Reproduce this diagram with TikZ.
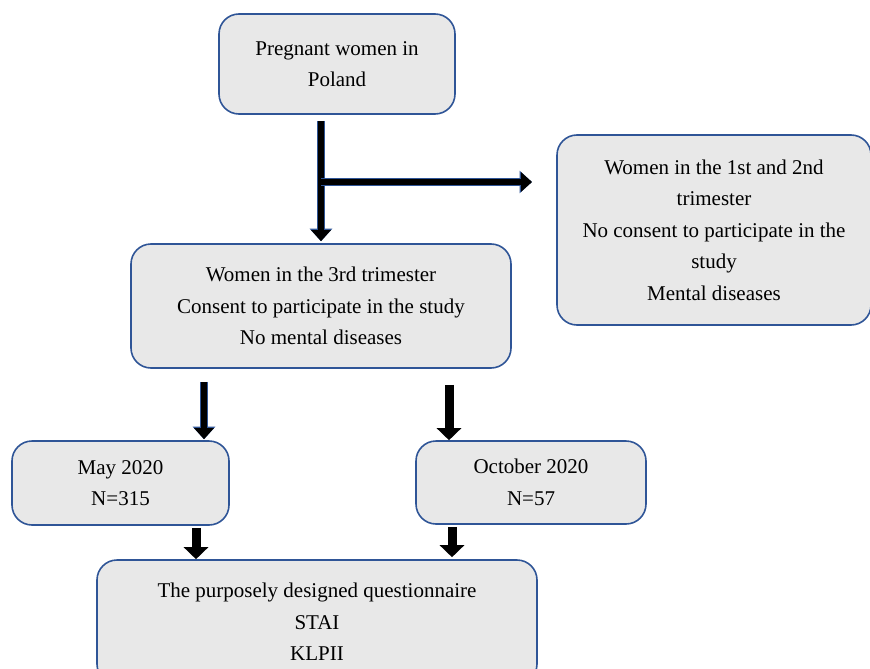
\documentclass[tikz,border=0pt]{standalone}
\usepackage{fontspec}
\setmainfont{Liberation Serif}
\usetikzlibrary{arrows.meta,calc}
\definecolor{boxblue}{RGB}{47,85,151}
\definecolor{boxgray}{RGB}{232,232,232}
\tikzset{
	stagebox/.style={draw=boxblue, fill=boxgray, line width=1.6pt, rounded corners=20pt, align=center, inner sep=0pt},
	blockarrow/.style={line width=6pt, -{Triangle[width=19pt,length=11pt]}, preaction={draw=boxblue, line width=8.5pt, -{Triangle[width=22pt,length=12.5pt]}}},
	plainarrow/.style={line width=9pt, -{Triangle[width=24pt,length=12pt]}}
}
\begin{document}
\begin{tikzpicture}[x=1pt, y=-1pt, every node/.style={font=\fontsize{21}{31.5}\selectfont}]
	\useasboundingbox (0,0) rectangle (870,669);
	\node[stagebox, minimum width=236pt, minimum height=100pt] (poland) at (337,64) {Pregnant women in\\ Poland};
	\node[stagebox, minimum width=314pt, minimum height=190pt] (excluded) at (714,230) {Women in the 1st and 2nd\\ trimester\\ No consent to participate in the\\ study\\ Mental diseases};
	\node[stagebox, minimum width=380pt, minimum height=124pt] (included) at (321,306) {Women in the 3rd trimester\\ Consent to participate in the study\\ No mental diseases};
	\node[stagebox, minimum width=217pt, minimum height=84pt] (may) at (120.5,483) {May 2020\\ N=315};
	\node[stagebox, minimum width=230pt, minimum height=83pt] (october) at (531,482.5) {October 2020\\ N=57};
	\node[stagebox, minimum width=440pt, minimum height=124pt] (survey) at (317,622) {The purposely designed questionnaire\\ STAI\\ KLPII};
	% exclusion branch
	\coordinate (top) at ($(poland.south)+(-16,6)$);
	\coordinate (split) at (321,182);
	\coordinate (out) at (532,182);
	\draw[blockarrow] (top) -- ($(top |- included.north)+(0,-2)$);
	\draw[blockarrow] (split) -- (out);
	% two survey waves
	\coordinate (mayin) at ($(included.south)+(-117,13)$);
	\coordinate (octin) at ($(included.south)+(128,16)$);
	\coordinate (mayout) at ($(may.south)+(75.5,2)$);
	\coordinate (octout) at ($(october.south)+(-79,2)$);
	\draw[blockarrow] (mayin) -- ($(mayin |- may.north)+(0,-1)$);
	\draw[plainarrow] (octin) -- (octin |- october.north);
	\draw[plainarrow] (mayout) -- (mayout |- survey.north);
	\draw[plainarrow] (octout) -- ($(octout |- survey.north)+(0,-2)$);
\end{tikzpicture}
\end{document}
